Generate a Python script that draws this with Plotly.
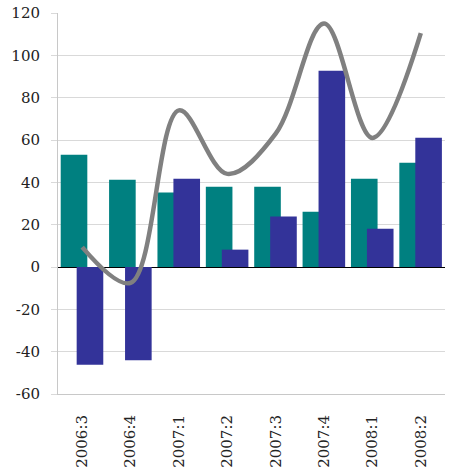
import plotly.graph_objects as go

categories = ["2006:3", "2006:4", "2007:1", "2007:2", "2007:3", "2007:4", "2008:1", "2008:2"]
teal_values = [53.0, 41.2, 35.2, 37.9, 37.9, 26.1, 41.7, 49.3]
blue_values = [-46.2, -44.1, 41.7, 8.2, 23.8, 92.7, 18.1, 61.1]
line_values = [9.4, -7.5, 74.0, 44.0, 63.0, 115.0, 61.0, 110.5]
y_ticks = [-60, -40, -20, 0, 20, 40, 60, 80, 100, 120]

font_family = "DejaVu Serif"

fig = go.Figure()
fig.add_trace(go.Bar(x=categories, y=teal_values, marker_color="#008080",
                     width=0.55, offset=-0.444, marker_line_width=0))
fig.add_trace(go.Bar(x=categories, y=blue_values, marker_color="#333399",
                     width=0.55, offset=-0.114, marker_line_width=0))
fig.add_trace(go.Scatter(x=categories, y=line_values, mode="lines",
                         line=dict(color="#808080", width=4.5, shape="spline", smoothing=1.0)))

fig.update_layout(
    width=451, height=468,
    margin=dict(l=58, r=6, t=13, b=74, autoexpand=False),
    paper_bgcolor="white", plot_bgcolor="white",
    barmode="overlay", showlegend=False,
    font=dict(family=font_family, size=15, color="#222222"),
)
fig.update_xaxes(
    type="category", range=[-0.5, 7.5], tickangle=-90,
    showgrid=False, showline=True, linecolor="#c8c8c8", linewidth=1,
    ticks="", ticklabelstandoff=14,
    tickfont=dict(family=font_family, size=15, color="#222222"),
)
fig.update_yaxes(
    range=[-60, 120], tickvals=y_ticks, ticktext=[str(v) for v in y_ticks],
    showgrid=True, gridcolor="#d9d9d9", gridwidth=1,
    showline=True, linecolor="#c8c8c8", linewidth=1,
    ticks="outside", ticklen=6, tickcolor="#d9d9d9",
    zeroline=True, zerolinecolor="black", zerolinewidth=1,
    tickfont=dict(family=font_family, size=15, color="#222222"),
    ticklabelstandoff=8, ticklabeloverflow="allow",
)

fig.write_html(
    "out.html",
    config={"displayModeBar": False},
    post_script="document.body.style.margin='0px';document.body.style.overflow='hidden';",
)
